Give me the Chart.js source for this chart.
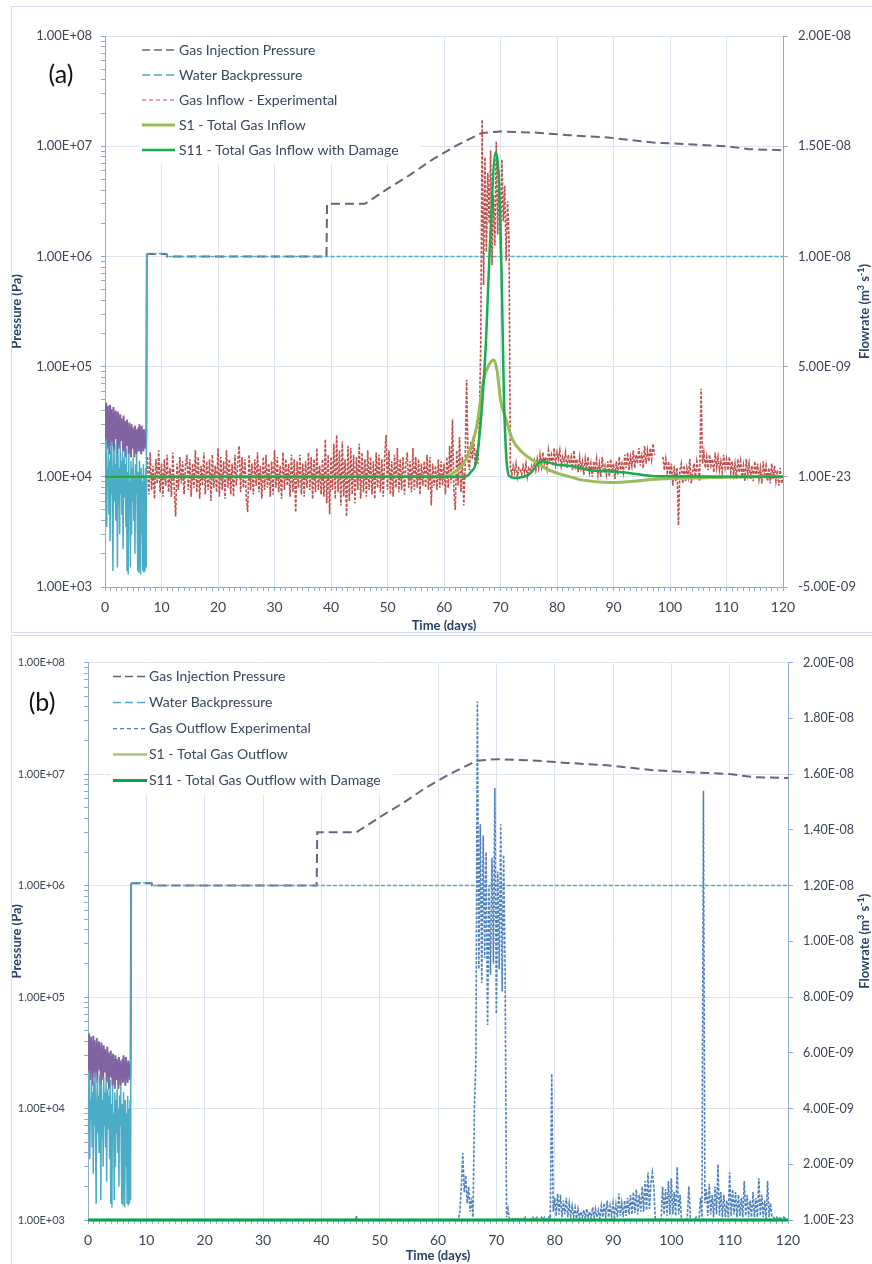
<!DOCTYPE html>
<html>
<head>
<meta charset="utf-8">
<title>Gas injection test - pressures and flowrates</title>
<script src="https://cdn.jsdelivr.net/npm/chart.js@4.4.1/dist/chart.umd.min.js"></script>
<style>
  body { margin: 0; background: #fff; width: 872px; height: 1264px; overflow: hidden; position: relative; }
  .frame { position: absolute; border: 1px solid #d3dfee; }
  canvas { position: absolute; }
</style>
</head>
<body>
<div class="frame" style="left:11px;top:6px;width:880px;height:625px"></div>
<div class="frame" style="left:11px;top:635px;width:880px;height:640px"></div>
<canvas id="chartA" width="860" height="624" style="left:12px;top:7px"></canvas>
<canvas id="chartB" width="860" height="627" style="left:12px;top:637px"></canvas>
<script>
// axis ticks
const dayLabels = [0, 10, 20, 30, 40, 50, 60, 70, 80, 90, 100, 110, 120];
const pressureTicks = [1e3, 1e4, 1e5, 1e6, 1e7, 1e8];
const pressureLabels = ['1.00E+03', '1.00E+04', '1.00E+05', '1.00E+06', '1.00E+07', '1.00E+08'];
// flowrates are kept in units of 1e-9 m3/s
const flowTicksA = [-5, 0, 5, 10, 15, 20];
const flowLabelsA = ['-5.00E-09', '1.00E-23', '5.00E-09', '1.00E-08', '1.50E-08', '2.00E-08'];
const flowTicksB = [0, 2, 4, 6, 8, 10, 12, 14, 16, 18, 20];
const flowLabelsB = ['1.00E-23', '2.00E-09', '4.00E-09', '6.00E-09', '8.00E-09', '1.00E-08',
  '1.20E-08', '1.40E-08', '1.60E-08', '1.80E-08', '2.00E-08'];

// pressures (Pa), first week logged every 0.1 day from day 0
const earlyStep = 0.1;
const injEarly = [
  42000, 21000, 47000, 30000, 18000, 44000, 26000, 39000, 16000, 45000,
  28000, 41000, 19000, 36000, 24000, 43000, 17000, 38000, 27000, 40000,
  22000, 35000, 16000, 39000, 25000, 33000, 18000, 37000, 21000, 34000,
  26000, 31000, 17000, 36000, 20000, 32000, 15000, 30000, 24000, 33000,
  19000, 29000, 16000, 31000, 22000, 27000, 15000, 30000, 18000, 28000,
  21000, 26000, 15000, 29000, 19000, 27000, 16000, 25000, 20000, 28000,
  17000, 30000, 19000, 26000, 16000, 29000, 21000, 24000, 17000, 27000,
  20000, 25000, 18000, 23000];
const waterEarly = [
  15000, 6000, 22000, 3500, 12000, 8000, 19000, 4500, 14000, 2600,
  17000, 7000, 21000, 5000, 1400, 11000, 18000, 6000, 13000, 4000,
  20000, 9000, 1500, 16000, 5500, 12000, 3000, 19000, 7000, 14000,
  4500, 17000, 2200, 10000, 15000, 6500, 13000, 3500, 18000, 1400,
  11000, 1300, 16000, 5000, 9000, 1500, 14000, 3000, 12000, 6000,
  15000, 4000, 10000, 2000, 13000, 7000, 16000, 4500, 1400, 11000,
  1350, 14000, 5000, 1300, 12000, 3000, 9000, 1400, 13000, 1350,
  10000, 1400, 12000, 1500];
// pressures after the first week
const injDays = [7.4, 10.9, 11, 39.2, 39.3, 46, 50, 54, 58, 62, 66.7, 70, 76, 82, 89, 97, 105, 110, 114, 120];
const injVals = [1.05e6, 1.05e6, 1.0e6, 1.0e6, 3.0e6, 3.0e6, 4.1e6, 5.5e6, 7.6e6, 1.0e7,
  1.32e7, 1.36e7, 1.33e7, 1.26e7, 1.2e7, 1.08e7, 1.03e7, 1.0e7, 9.4e6, 9.2e6];
const waterDays = [7.4, 10.9, 11, 120];
const waterVals = [1.06e6, 1.06e6, 1.0e6, 1.0e6];

// (a) gas inflow, experimental, every 0.25 day from day 7.5
const inflowStart = 7.5;
const flowStep = 0.25;
const inflowExp = [
  0.9, -0.8, 1.1, -0.6,   0.5, -1.0, 0.8, -0.3,   1.2, -0.7, 0.6, -0.9,   0.8, -0.4, 1.0, -0.7,
  0.4, -0.9, 1.1, -0.5,   -1.8, 0.6, -0.6, 0.9,   -0.3, 0.7, -0.8, 0.5,   1.0, -0.6, 0.8, -0.9,
  0.6, -0.5, 1.2, -0.7,   0.9, -1.0, 0.5, -0.4,   1.1, -0.8, 0.7, -0.6,   0.8, -1.1, 1.0, -0.5,
  0.5, -0.7, 1.3, -0.9,   0.9, -0.6, 0.7, -1.0,   1.2, -0.5, 0.8, -0.8,   0.6, -0.9, 1.0, -0.4,
  0.7, 1.4, -0.7, 0.9,    -0.5, 0.8, -0.9, -1.6,  1.0, -0.6, 0.6, -0.8,   0.8, -0.4, 1.1, -0.7,
  0.5, -1.0, 0.9, -0.6,   1.0, -0.5, 0.6, -0.9,   0.7, -0.8, 1.2, -0.5,   0.9, -0.7, 0.5, -1.0,
  1.1, -0.6, 0.8, -0.4,   0.6, -0.9, 1.0, -0.7,   0.8, -1.6, 0.7, -0.5,   1.0, -0.8, 0.6, -0.9,
  0.7, -0.5, 1.1, -0.6,   0.9, -1.0, 0.8, -0.7,   1.3, -0.6, 0.5, -0.8,   0.8, -0.9, 1.7, -1.2,
  1.0, -1.7, 0.9, -0.6,   1.5, -1.0, 1.9, -0.7,   1.2, -1.3, 1.6, -0.9,   0.8, -1.8, 1.4, -1.1,
  1.3, -0.8, 1.0, -1.2,   0.9, -0.6, 1.5, -1.0,   1.1, -0.7, 0.8, -0.9,   1.2, -0.6, 0.9, -0.8,
  0.7, -1.0, 1.1, -0.5,   1.0, -0.7, 0.8, -0.9,   0.9, 1.9, -0.6, 1.2,    -0.8, 0.7, -0.9, 1.0,
  -0.5, 1.3, -0.7, 0.8,   -0.6, 0.9, -0.8, 0.6,   1.1, -0.5, 0.7, -0.7,   1.3, -0.6, 0.9, -0.5,
  0.8, -0.8, 0.6, -0.4,   0.7, -0.5, 1.0, -0.6,   0.9, -1.3, 0.6, -0.4,   0.5, -0.6, 0.8, -0.5,
  0.7, -0.4, 0.6, -0.8,   0.9, -0.5, 1.4, -0.3,   2.6, -0.6, -1.5, 1.2,   -0.4, 1.8, -0.7, 0.9,
  -1.3, 0.6, 4.4, 0.8,    0.3, 1.6, 0.8, 1.9,     0.5, 1.2, 0.6, 2.4,     6.0, 16.2, 8.7, 14.5,
  10.2, 13.8, 11.5, 14.8, 9.6, 12.8, 10.5, 15.2,  11.0, 13.9, 10.1, 14.4, 11.6, 13.2, 9.8, 12.5,
  10.9, 0.4, 0.1, 0.5,    0.2, 0.6, 0.0, 0.4,     0.3, 0.1, 0.5, 0.2,     0.6, 0.0, 0.4, 0.3,
  0.5, 0.2, 0.7, 0.3,     0.8, 0.4, 1.0, 0.5,     1.1, 0.6, 0.9, 0.4,     1.2, 0.7, 1.0, 0.5,
  1.3, 0.6, 1.1, 0.8,     1.2, 0.5, 0.9, 0.7,     1.1, 0.4, 1.0, 0.6,     0.9, 0.3, 1.2, 0.5,
  0.8, 0.2, 0.9, 0.4,     0.7, 0.1, 0.8, 0.3,     0.9, 0.2, 0.6, 0.0,     0.7, 0.3, 0.8, 0.1,
  0.6, 0.0, 0.9, 0.2,     0.5, 0.1, 0.7, 0.0,     0.8, 0.2, 0.6, -0.1,    0.7, 0.1, 0.9, 0.3,
  0.6, 0.2, 1.0, 0.4,     1.1, 0.3, 0.9, 0.5,     1.2, 0.4, 1.0, 0.6,     1.3, 0.5, 1.1, 0.4,
  1.4, 0.6, 1.2, 0.7,     1.3, 0.8, 1.5, 1.0,     null, null, null, null, null, 0.9, 0.3, 0.8,
  0.2, 0.7, 0.0, 0.6,     -0.4, 0.5, -0.2, 0.4,   -2.2, 0.3, 0.6, -0.3,   0.5, -0.2, 0.4, 0.0,
  0.8, -0.3, 0.2, 0.6,    -0.1, 0.7, 0.3, -0.2,   4.0, 0.6, 1.1, 0.4,     0.9, 0.3, 1.0, 0.5,
  0.8, 0.2, 1.1, 0.4,     0.9, 0.3, 0.7, 0.2,     1.0, 0.4, 0.8, 0.3,     0.9, 0.2, 0.7, 0.1,
  0.6, -0.1, 0.8, 0.2,    0.7, 0.0, 0.5, -0.2,    0.8, 0.1, 0.6, -0.1,    0.5, -0.2, 0.7, 0.0,
  0.6, -0.1, 0.4, -0.3,   0.7, 0.0, 0.5, -0.2,    0.4, -0.3, 0.6, -0.1,   0.5, -0.2, 0.3, -0.4,
  0.4, -0.3, -0.1];
// (a) simulated inflow
const s1InDays = [0, 60, 62.3, 64, 65.8, 67, 68, 68.8, 69.4, 70, 71, 72.1, 73.9, 75.7, 78.6, 81.6, 84.6, 89.4, 98.2, 105.4, 116, 120];
const s1InVals = [0, 0, 0.3, 0.85, 2.3, 4.4, 5.1, 5.3, 4.8, 3.5, 2.6, 1.7, 1.1, 0.75, 0.3, 0.05, -0.15, -0.26, -0.1, -0.05, 0, 0];
const s11InDays = [0, 63.5, 64.7, 65.9, 67.3, 68.2, 69.1, 69.7, 70.2, 70.6, 71, 71.5, 72.5, 75, 77.3, 80, 82, 86, 92, 98, 120];
const s11InVals = [0, 0, 0.2, 1.0, 5.5, 10.9, 14.7, 13.5, 9.1, 3.7, 1.0, 0.05, -0.05, 0.1, 0.7, 0.55, 0.5, 0.3, 0.2, 0.02, 0];

// (b) gas outflow, experimental
const outflowQuietDays = [7.3, 45.9, 46, 46.1, 62.75];
const outflowQuiet = [0, 0, 0.15, 0, 0];
const outflowStart = 63;   // then every 0.25 day
const outflowExp = [
  0.0, 0.0, 0.0, 0.3,     1.2, 2.4, 1.0, 1.6,     0.6, 1.2, 0.3, 0.8,     0.1, 4.1, 5.8, 18.6,
  9.0, 14.2, 8.5, 13.8,   9.4, 13.2, 7.0, 12.0,   8.8, 13.0, 9.2, 15.5,   7.4, 12.5, 9.0, 14.2,
  8.2, 13.1, 9.0, 0.1,    0.4, 0.0, 0.0, 0.05,    0.0, 0.05, 0.0, 0.05,   0.0, 0.05, 0.0, 0.05,
  0.1, 0.0, 0.05, 0.0,    0.05, 0.1, 0.0, 0.05,   0.1, 0.0, 0.05, 0.1,    0.0, 0.1, 0.05, 0.0,
  0.1, 0.05, 5.25, 0.3,   0.8, 0.15, 0.95, 0.2,   0.9, 0.1, 0.7, 0.2,     0.8, 0.1, 0.6, 0.15,
  0.5, 0.1, 0.45, 0.05,   0.4, 0.05, 0.3, 0.1,    0.35, 0.05, 0.4, 0.1,   0.3, 0.05, 0.45, 0.1,
  0.4, 0.1, 0.35, 0.05,   0.5, 0.1, 0.6, 0.15,    0.7, 0.1, 0.5, 0.15,    0.6, 0.1, 0.55, 0.1,
  0.95, 0.15, 0.6, 0.1,   0.7, 0.15, 0.8, 0.2,    0.9, 0.2, 1.0, 0.25,    1.1, 0.2, 0.9, 0.3,
  1.2, 0.3, 1.4, 0.35,    1.7, 0.4, 1.3, 1.7,     1.2, 0.0, 0.0, 0.0,     0.0, 0.0, 1.2, 0.2,
  1.1, 0.15, 1.4, 0.2,    1.5, 0.2, 1.0, 0.15,    1.9, 0.2, 0.9, 0.0,     0.0, 0.0, 0.0, 0.1,
  1.2, 0.1, 0.0, 0.0,     0.0, 0.1, 0.0, 0.0,     0.8, 0.1, 15.4, 0.6,    1.1, 0.15, 1.3, 0.2,
  0.9, 0.1, 1.2, 0.2,     2.0, 0.15, 1.0, 0.1,    0.9, 0.1, 0.7, 0.1,     1.7, 0.15, 1.1, 0.2,
  1.0, 0.1, 0.9, 0.15,    0.8, 0.1, 1.4, 0.15,    0.9, 0.1, 0.7, 0.1,     1.0, 0.1, 0.8, 0.1,
  1.5, 0.15, 0.9, 0.1,    0.7, 0.05, 1.4, 0.1,    0.6, 0.1, 0.1, 0.05,    0.1, 0.05, 0.1, 0.05,
  0.05, 0.1, 0.05, 0.0,   0.0];
// (b) simulated outflow
const s1OutDays = [0, 120];
const s1OutVals = [0, 0];
const s11OutDays = [0, 120];
const s11OutVals = [0, 0];

const axisColor = '#8fabd0';
const gridColor = '#dbe5f1';
const tickText = '#3c4657';
const titleColor = '#26426b';
const legendText = '#38465e';
Chart.defaults.font.family = 'Lato, "Open Sans", sans-serif';

function pts(days, vals) {
  return vals.map((v, i) => ({ x: days[i], y: v }));
}
function stepPts(start, step, vals) {
  return vals.map((v, i) => ({ x: +(start + i * step).toFixed(2), y: v }));
}

var injPts = stepPts(0, earlyStep, injEarly).concat(pts(injDays, injVals));
var waterPts = stepPts(0, earlyStep, waterEarly).concat(pts(waterDays, waterVals));

// minor ticks: every day on x, 1..9 per decade on the log axis
var dayTicks = [];
for (var d = 0; d <= 120; d++) dayTicks.push(d);
var logTicks = [];
for (var e = 3; e < 8; e++) {
  for (var m = 1; m < 10; m++) logTicks.push(m * Math.pow(10, e));
}
logTicks.push(1e8);

function early(c) { return c.p0.parsed.x < 7.35; }

function drawFlowTitle(ctx) {
  var runs = [['Flowrate (m', false], ['3', true], [' s', false], ['-1', true], [')', false]];
  var big = 'bold 13px Lato, sans-serif', small = 'bold 9px Lato, sans-serif';
  var total = 0;
  runs.forEach(function (r) { ctx.font = r[1] ? small : big; total += ctx.measureText(r[0]).width; });
  var x = -total / 2;
  ctx.fillStyle = titleColor;
  ctx.textAlign = 'left';
  ctx.textBaseline = 'middle';
  runs.forEach(function (r) {
    ctx.font = r[1] ? small : big;
    ctx.fillText(r[0], x, r[1] ? -4 : 0);
    x += ctx.measureText(r[0]).width;
  });
}

// legend inside the plot, panel letter and right axis title
const extrasPlugin = {
  id: 'panelExtras',
  afterDraw(chart, args, o) {
    var ctx = chart.ctx, a = chart.chartArea;
    ctx.save();
    ctx.fillStyle = '#fff';
    ctx.fillRect(a.left + o.boxLeft, a.top + 1, o.boxWidth, o.boxHeight);
    ctx.font = o.legendFont;
    ctx.textBaseline = 'middle';
    chart.data.datasets.forEach(function (ds, i) {
      var y = a.top + o.rowTop + i * o.rowGap;
      var x = a.left + o.lineLeft;
      ctx.beginPath();
      ctx.setLineDash(ds.legendDash || []);
      ctx.strokeStyle = ds.borderColor;
      ctx.lineWidth = ds.legendWidth || ds.borderWidth;
      ctx.moveTo(x, y);
      ctx.lineTo(x + o.lineLen, y);
      ctx.stroke();
      ctx.fillStyle = legendText;
      ctx.fillText(ds.label, a.left + o.textLeft, y);
    });
    ctx.setLineDash([]);
    ctx.font = '25px Lato, sans-serif';
    ctx.fillStyle = '#111';
    ctx.textAlign = 'center';
    ctx.fillText(o.letter, o.letterX, o.letterY);
    ctx.translate(o.rightTitleX, (a.top + a.bottom) / 2);
    ctx.rotate(-Math.PI / 2);
    drawFlowTitle(ctx);
    ctx.restore();
  }
};

function makeChart(id, p) {
  return new Chart(document.getElementById(id), {
    type: 'line',
    data: { datasets: p.datasets },
    plugins: [extrasPlugin],
    options: {
      responsive: false,
      animation: false,
      events: [],
      layout: { padding: { top: p.top, left: 0, right: 0, bottom: 0 } },
      elements: { point: { radius: 0 }, line: { tension: 0 } },
      plugins: {
        legend: { display: false },
        tooltip: { enabled: false },
        panelExtras: p.extras
      },
      scales: {
        x: {
          type: 'linear', min: 0, max: 120,
          afterBuildTicks: function (s) { s.ticks = dayTicks.map(function (v) { return { value: v }; }); },
          afterFit: function (s) { s.height = p.xHeight; },
          ticks: {
            autoSkip: false, maxRotation: 0, padding: 8, color: tickText, font: { size: 14 },
            callback: function (v) { return dayLabels.indexOf(v) >= 0 ? String(v) : ''; }
          },
          grid: {
            color: function (c) { return c.tick && dayLabels.indexOf(c.tick.value) >= 0 ? gridColor : 'rgba(0,0,0,0)'; },
            tickColor: axisColor, tickLength: 4
          },
          border: { color: axisColor },
          title: { display: true, text: 'Time (days)', color: titleColor, font: { size: 13, weight: 'bold' }, padding: { top: 0, bottom: p.xTitlePad } }
        },
        y: {
          type: 'logarithmic', position: 'left', min: 1e3, max: 1e8,
          afterBuildTicks: function (s) { s.ticks = logTicks.map(function (v) { return { value: v }; }); },
          afterFit: function (s) { s.width = p.leftWidth; },
          ticks: {
            autoSkip: false, padding: p.leftPad, color: tickText, font: { size: p.leftFont },
            callback: function (v) { var i = pressureTicks.indexOf(v); return i >= 0 ? pressureLabels[i] : ''; }
          },
          grid: {
            color: function (c) { return c.tick && pressureTicks.indexOf(c.tick.value) >= 0 ? gridColor : 'rgba(0,0,0,0)'; },
            tickColor: axisColor, tickLength: 4
          },
          border: { color: axisColor },
          title: { display: true, text: 'Pressure (Pa)', color: titleColor, font: { size: 13, weight: 'bold' }, padding: { top: -3, bottom: 0 } }
        },
        y1: {
          type: 'linear', position: 'right', min: p.flowTicks[0], max: p.flowTicks[p.flowTicks.length - 1],
          afterBuildTicks: function (s) { s.ticks = p.flowTicks.map(function (v) { return { value: v }; }); },
          afterFit: function (s) { s.width = p.rightWidth; },
          ticks: {
            autoSkip: false, padding: 10, color: tickText, font: { size: p.rightFont },
            callback: function (v) { var i = p.flowTicks.indexOf(v); return i >= 0 ? p.flowLabels[i] : ''; }
          },
          grid: { drawOnChartArea: false, tickColor: axisColor, tickLength: 5 },
          border: { color: axisColor }
        }
      }
    }
  });
}

function pressureSets() {
  return [
    {
      label: 'Gas Injection Pressure', data: injPts, yAxisID: 'y', order: 5,
      borderColor: '#6e6180', borderWidth: 2, borderDash: [9, 5], legendDash: [8, 4], legendWidth: 1.5,
      segment: {
        borderColor: function (c) { return early(c) ? '#8064a2' : undefined; },
        borderDash: function (c) { return early(c) ? [] : undefined; }
      }
    },
    {
      label: 'Water Backpressure', data: waterPts, yAxisID: 'y', order: 4,
      borderColor: '#4bacc6', borderWidth: 1.5, borderDash: [4, 2], legendDash: [8, 4],
      segment: { borderDash: function (c) { return early(c) ? [] : undefined; } }
    }
  ];
}

makeChart('chartA', {
  top: 29, leftWidth: 93, rightWidth: 89, xHeight: 44, xTitlePad: -3,
  leftPad: 9, leftFont: 13, rightFont: 13,
  flowTicks: flowTicksA, flowLabels: flowLabelsA,
  extras: {
    boxLeft: 35, boxWidth: 281, boxHeight: 127, rowTop: 14, rowGap: 25,
    lineLeft: 37, lineLen: 33, textLeft: 74, legendFont: '14px Lato, sans-serif',
    letter: '(a)', letterX: 49, letterY: 68, rightTitleX: 853
  },
  datasets: pressureSets().concat([
    {
      label: 'Gas Inflow - Experimental', data: stepPts(inflowStart, flowStep, inflowExp), yAxisID: 'y1', order: 3,
      borderColor: '#c0504d', borderWidth: 1.6, borderDash: [3, 1.5], legendDash: [4, 3], legendWidth: 1.2
    },
    {
      label: 'S1 - Total Gas Inflow', data: pts(s1InDays, s1InVals), yAxisID: 'y1', order: 2,
      borderColor: '#9bbb59', borderWidth: 3, cubicInterpolationMode: 'monotone'
    },
    {
      label: 'S11 - Total Gas Inflow with Damage', data: pts(s11InDays, s11InVals), yAxisID: 'y1', order: 1,
      borderColor: '#1aab4f', borderWidth: 2.5, cubicInterpolationMode: 'monotone'
    }
  ])
});

makeChart('chartB', {
  top: 23, leftWidth: 76, rightWidth: 84, xHeight: 44, xTitlePad: 0,
  leftPad: 19, leftFont: 11, rightFont: 12.5,
  flowTicks: flowTicksB, flowLabels: flowLabelsB,
  extras: {
    boxLeft: 22, boxWidth: 283, boxHeight: 131, rowTop: 14, rowGap: 26,
    lineLeft: 25, lineLen: 34, textLeft: 61, legendFont: '14px Lato, sans-serif',
    letter: '(b)', letterX: 30, letterY: 66, rightTitleX: 853
  },
  datasets: pressureSets().concat([
    {
      label: 'Gas Outflow Experimental',
      data: pts(outflowQuietDays, outflowQuiet).concat(stepPts(outflowStart, flowStep, outflowExp)),
      yAxisID: 'y1', order: 3, clip: 4,
      borderColor: '#4f81bd', borderWidth: 1.6, borderDash: [3, 1.5], legendDash: [4, 3], legendWidth: 1.2
    },
    {
      label: 'S1 - Total Gas Outflow', data: pts(s1OutDays, s1OutVals), yAxisID: 'y1', order: 2, clip: 4,
      borderColor: '#a9c47f', borderWidth: 2.5
    },
    {
      label: 'S11 - Total Gas Outflow with Damage', data: pts(s11OutDays, s11OutVals), yAxisID: 'y1', order: 1, clip: 4,
      borderColor: '#00a650', borderWidth: 3
    }
  ])
});
</script>
</body>
</html>
